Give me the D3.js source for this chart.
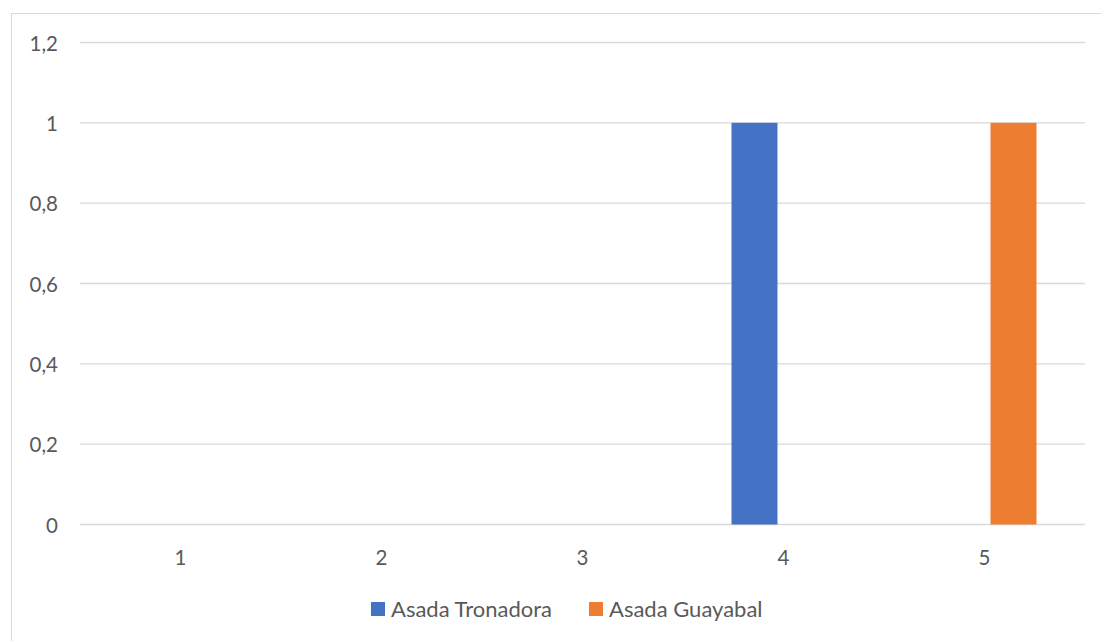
<!DOCTYPE html>
<html><head><meta charset="utf-8">
<script src="https://cdn.jsdelivr.net/npm/d3@7"></script>
<style>html,body{margin:0;padding:0;background:#fff;overflow:hidden}</style>
</head><body>
<svg id="c" width="1101" height="641"></svg>
<script>
const categories = ["1","2","3","4","5"];
const seriesNames = ["Asada Tronadora","Asada Guayabal"];
const tronadora = [0,0,0,1,0];
const guayabal = [0,0,0,0,1];
const yTicks = [0,0.2,0.4,0.6,0.8,1,1.2];
const colors = ["#4472C4","#ED7D31"];

(function(){
const svg = d3.select("#c");
const font = "Lato, 'Open Sans', sans-serif";
const textColor = "#595959";

// chart border
svg.append("rect").attr("x",11.5).attr("y",13.5).attr("width",1100).attr("height",700)
  .attr("fill","none").attr("stroke","#d9d9d9").attr("stroke-width",1);

const pl=80, pr=1085, pt=42.5, pb=524.5;
const x = d3.scaleBand().domain(categories).range([pl,pr]).paddingInner(0).paddingOuter(0);
const y = d3.scaleLinear().domain([0,1.2]).range([pb,pt]);
const fmt = d => String(+d.toFixed(1)).replace(".",",");

// gridlines
svg.append("g").selectAll("line").data(yTicks).join("line")
  .attr("x1",pl).attr("x2",pr)
  .attr("y1",d=>y(d)).attr("y2",d=>y(d))
  .attr("stroke","#d9d9d9").attr("stroke-width",1.3);

// y labels
const yAxis = d3.axisLeft(y).tickValues(yTicks).tickFormat(fmt).tickSize(0).tickPadding(0);
const gy = svg.append("g").attr("transform",`translate(58,0)`).call(yAxis);
gy.select(".domain").remove();
gy.selectAll("text").attr("font-family",font).attr("font-size",20.5).attr("fill",textColor).attr("dy","0.38em");

// bars
const sub = d3.scaleBand().domain([0,1]).range([0,x.bandwidth()]).paddingInner(0.207).paddingOuter(0.836);
const data = [tronadora,guayabal];
data.forEach((vals,si)=>{
  svg.append("g").selectAll("rect").data(vals.map((v,i)=>({v,c:categories[i]})).filter(d=>d.v>0)).join("rect")
    .attr("x",d=>x(d.c)+sub(si))
    .attr("width",sub.bandwidth())
    .attr("y",d=>y(d.v))
    .attr("height",d=>y(0)-y(d.v))
    .attr("fill",colors[si]);
});

// x labels
const xAxis = d3.axisBottom(x).tickSize(0).tickPadding(0);
const gx = svg.append("g").attr("transform",`translate(0,557)`).call(xAxis);
gx.select(".domain").remove();
gx.selectAll("text").attr("font-family",font).attr("font-size",20.5).attr("fill",textColor).attr("dy","0.38em");

// legend
const legendX = [371, 589];
const lg = svg.append("g");
seriesNames.forEach((n,i)=>{
  lg.append("rect").attr("x",legendX[i]).attr("y",602).attr("width",14).attr("height",14).attr("fill",colors[i]);
  lg.append("text").attr("x",legendX[i]+20).attr("y",609).attr("dy","0.37em")
    .attr("font-family",font).attr("font-size",22).attr("fill",textColor).text(n);
});
})();
</script>
</body></html>
